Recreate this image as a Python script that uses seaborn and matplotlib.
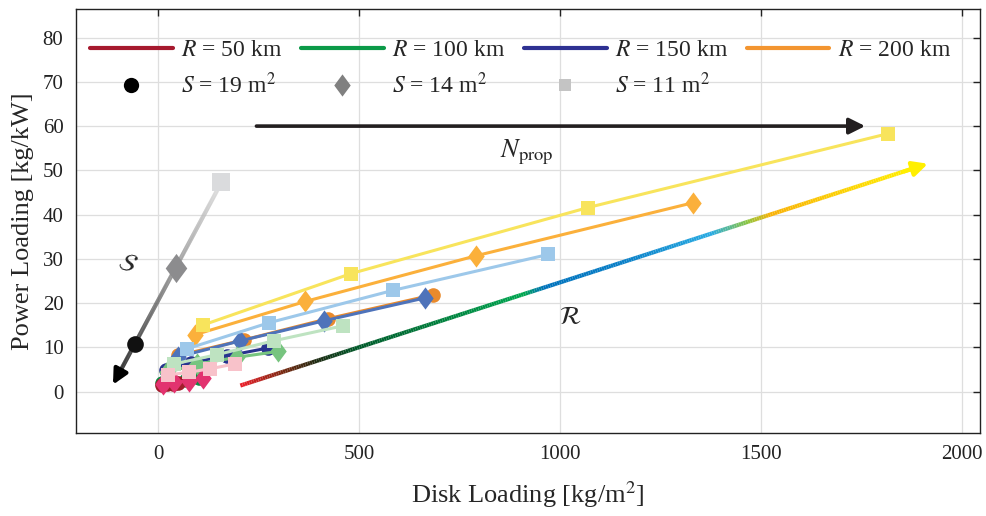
import numpy as np
import pandas as pd
import matplotlib
matplotlib.use('Agg')
import matplotlib.pyplot as plt
import seaborn as sns
from matplotlib.collections import LineCollection
from matplotlib.colors import LinearSegmentedColormap
from matplotlib.lines import Line2D

# ---------------- data (disk loading [kg/m^2], power loading [kg/kW]) ----------------
r200_s19_x = [50, 212, 422, 684]
r200_s19_y = [8.2, 11.7, 16.5, 21.9]
r200_s14_x = [92, 366, 790, 1331]
r200_s14_y = [12.9, 20.4, 30.7, 42.7]
r200_s11_x = [112, 480, 1069, 1816]
r200_s11_y = [15.1, 26.7, 41.6, 58.3]

r150_s19_x = [20, 80, 171, 274]
r150_s19_y = [4.8, 6.6, 8.1, 9.9]
r150_s14_x = [50, 204, 411, 664]
r150_s14_y = [7.9, 11.5, 16.0, 21.2]
r150_s11_x = [71, 276, 584, 970]
r150_s11_y = [9.7, 15.6, 22.9, 31.0]

r100_s19_x = [10, 38, 70, 100]
r100_s19_y = [2.0, 2.3, 2.7, 3.1]
r100_s14_x = [22, 95, 196, 298]
r100_s14_y = [4.4, 6.2, 7.8, 9.1]
r100_s11_x = [40, 147, 287, 460]
r100_s11_y = [6.3, 8.4, 11.5, 14.9]

r50_s19_x = [8, 22, 36, 48]
r50_s19_y = [1.6, 1.7, 1.8, 1.9]
r50_s14_x = [12, 40, 75, 112]
r50_s14_y = [1.8, 2.1, 2.5, 3.0]
r50_s11_x = [25, 75, 129, 191]
r50_s11_y = [3.8, 4.4, 5.2, 6.3]

range_labels = [r'$R$ = 50 km', r'$R$ = 100 km', r'$R$ = 150 km', r'$R$ = 200 km']
area_labels = [r'$S$ = 19 m$^2$', r'$S$ = 14 m$^2$', r'$S$ = 11 m$^2$']

# S illustration points (S = 11, 14, 19) and arrow endpoints
s_demo_x = [157, 45, -57]
s_demo_y = [47.3, 28.0, 10.8]
s_arrow_end = (-113, 1.6)
r_arrow_start = (204, 1.4)
r_arrow_end = (1915, 51.5)
n_arrow_start = (244, 60)
n_arrow_end = (1759, 60)

# ---------------- style ----------------
sns.set_style('white')
plt.rcParams['font.family'] = ['Liberation Serif', 'DejaVu Serif']
plt.rcParams['mathtext.fontset'] = 'stix'

fig = plt.figure(figsize=(9.87, 5.16), dpi=100)
ax = fig.add_axes([0.077, 0.161, 0.916, 0.822])

diamond = [(0, 1), (0.74, 0), (0, -1), (-0.74, 0), (0, 1)]
mk = {'c': ('o', 10.5), 'd': (diamond, 16), 's': ('s', 9.8)}

series = [
    (r200_s19_x, r200_s19_y, '#E98A2C', 'c'),
    (r200_s14_x, r200_s14_y, '#FBB03B', 'd'),
    (r200_s11_x, r200_s11_y, '#F8E45C', 's'),
    (r150_s19_x, r150_s19_y, '#28348F', 'c'),
    (r150_s14_x, r150_s14_y, '#4E73BA', 'd'),
    (r150_s11_x, r150_s11_y, '#9DC8EA', 's'),
    (r100_s19_x, r100_s19_y, '#0E8A43', 'c'),
    (r100_s14_x, r100_s14_y, '#77C47F', 'd'),
    (r100_s11_x, r100_s11_y, '#BEE3C1', 's'),
    (r50_s19_x, r50_s19_y, '#A11D2B', 'c'),
    (r50_s14_x, r50_s14_y, '#E2336F', 'd'),
    (r50_s11_x, r50_s11_y, '#F8C2CA', 's'),
]
for i, (xs, ys, col, m) in enumerate(series):
    df = pd.DataFrame({'x': xs, 'y': ys})
    sns.lineplot(data=df, x='x', y='y', ax=ax, color=col, lw=2.2,
                 marker=mk[m][0], markersize=mk[m][1], markeredgewidth=0,
                 sort=False, zorder=3 + i * 0.01)

# ---------------- gradient arrows ----------------
def grad_line(p0, p1, colors, lw, z):
    t = np.linspace(0, 1, 300)
    xs = p0[0] + (p1[0] - p0[0]) * t
    ys = p0[1] + (p1[1] - p0[1]) * t
    pts = np.column_stack([xs, ys]).reshape(-1, 1, 2)
    segs = np.concatenate([pts[:-1], pts[1:]], axis=1)
    cmap = LinearSegmentedColormap.from_list('g', colors)
    lc = LineCollection(segs, colors=cmap(t[:-1]), linewidths=lw,
                        capstyle='butt', zorder=z)
    ax.add_collection(lc)

r_colors = [(0.0, '#E8202A'), (0.06, '#7A2A12'), (0.11, '#1E2A12'),
            (0.17, '#00592A'), (0.42, '#00A650'), (0.45, '#0072BC'),
            (0.57, '#0A80C8'), (0.70, '#29ABE2'), (0.755, '#8DC63F'),
            (0.79, '#F9B208'), (1.0, '#FFEF00')]
grad_line(r_arrow_start, (r_arrow_end[0] - 40, r_arrow_end[1] - 1.17), r_colors, 3.0, 4)
ax.annotate('', xy=r_arrow_end, xytext=(r_arrow_end[0] - 60, r_arrow_end[1] - 1.76),
            arrowprops=dict(arrowstyle='-|>', color='#FFEF00', lw=3,
                            mutation_scale=22, shrinkA=0, shrinkB=0), zorder=5)

s_start = (s_demo_x[0], s_demo_y[0])
grad_line(s_start, (s_arrow_end[0] + 8, s_arrow_end[1] + 1.35),
          [(0.0, '#DCDCDC'), (0.45, '#8A8A8A'), (1.0, '#000000')], 3.0, 4)
ax.annotate('', xy=s_arrow_end, xytext=(s_arrow_end[0] + 15, s_arrow_end[1] + 2.5),
            arrowprops=dict(arrowstyle='-|>', color='black', lw=3,
                            mutation_scale=22, shrinkA=0, shrinkB=0), zorder=5)
ax.plot(s_demo_x[0], s_demo_y[0], 's', color='#DADBDD', ms=12.5, mew=0, zorder=6)
ax.plot(s_demo_x[1], s_demo_y[1], marker=diamond, color='#8C8C8E', ms=21, mew=0, zorder=6)
ax.plot(s_demo_x[2], s_demo_y[2], 'o', color='#111111', ms=12, mew=0, zorder=6)

ax.annotate('', xy=n_arrow_end, xytext=n_arrow_start,
            arrowprops=dict(arrowstyle='-|>', color='#231F20', lw=2.6,
                            mutation_scale=24, shrinkA=0, shrinkB=0), zorder=5)

ax.text(851, 54, r'$N_{\mathrm{prop}}$', fontsize=19, ha='left', va='center')
ax.text(-77, 28.7, r'$\mathcal{S}$', fontsize=18, ha='center', va='center', rotation=-15)
ax.text(1025, 16.7, r'$\mathcal{R}$', fontsize=18, ha='center', va='center')

# ---------------- axes ----------------
ax.set_xlim(-205, 2045)
ax.set_ylim(-9.3, 86.5)
ax.set_xticks([0, 500, 1000, 1500, 2000])
ax.set_yticks(np.arange(0, 81, 10))
ax.grid(True, color='#DEDEDE', lw=0.9)
ax.set_axisbelow(True)
ax.tick_params(direction='in', top=True, right=True, length=5, width=1,
               labelsize=15, colors='#222222', pad=9)
for sp in ax.spines.values():
    sp.set_color('#222222')
    sp.set_linewidth(1.0)
ax.set_xlabel(r'Disk Loading [kg/m$^2$]', fontsize=19, labelpad=11)
ax.set_ylabel('Power Loading [kg/kW]', fontsize=19, labelpad=6)

# ---------------- legend ----------------
h = [
    Line2D([], [], color='#A6192E', lw=3),
    Line2D([], [], color='black', marker='o', ls='none', ms=11, mew=0),
    Line2D([], [], color='#0B9A48', lw=3),
    Line2D([], [], color='#808080', marker=diamond, ls='none', ms=16, mew=0),
    Line2D([], [], color='#2E3192', lw=3),
    Line2D([], [], color='#C4C4C4', marker='s', ls='none', ms=9, mew=0),
    Line2D([], [], color='#F39530', lw=3),
]
labs = [range_labels[0], area_labels[0], range_labels[1], area_labels[1],
        range_labels[2], area_labels[2], range_labels[3]]
ax.legend(h, labs, ncol=4, loc='upper left', bbox_to_anchor=(0.0155, 0.928),
          frameon=False, fontsize=17, handlelength=3.5, handletextpad=0.35,
          columnspacing=0.8, labelspacing=0.5, borderpad=0, borderaxespad=0)

fig.savefig('out.png', dpi=100)
